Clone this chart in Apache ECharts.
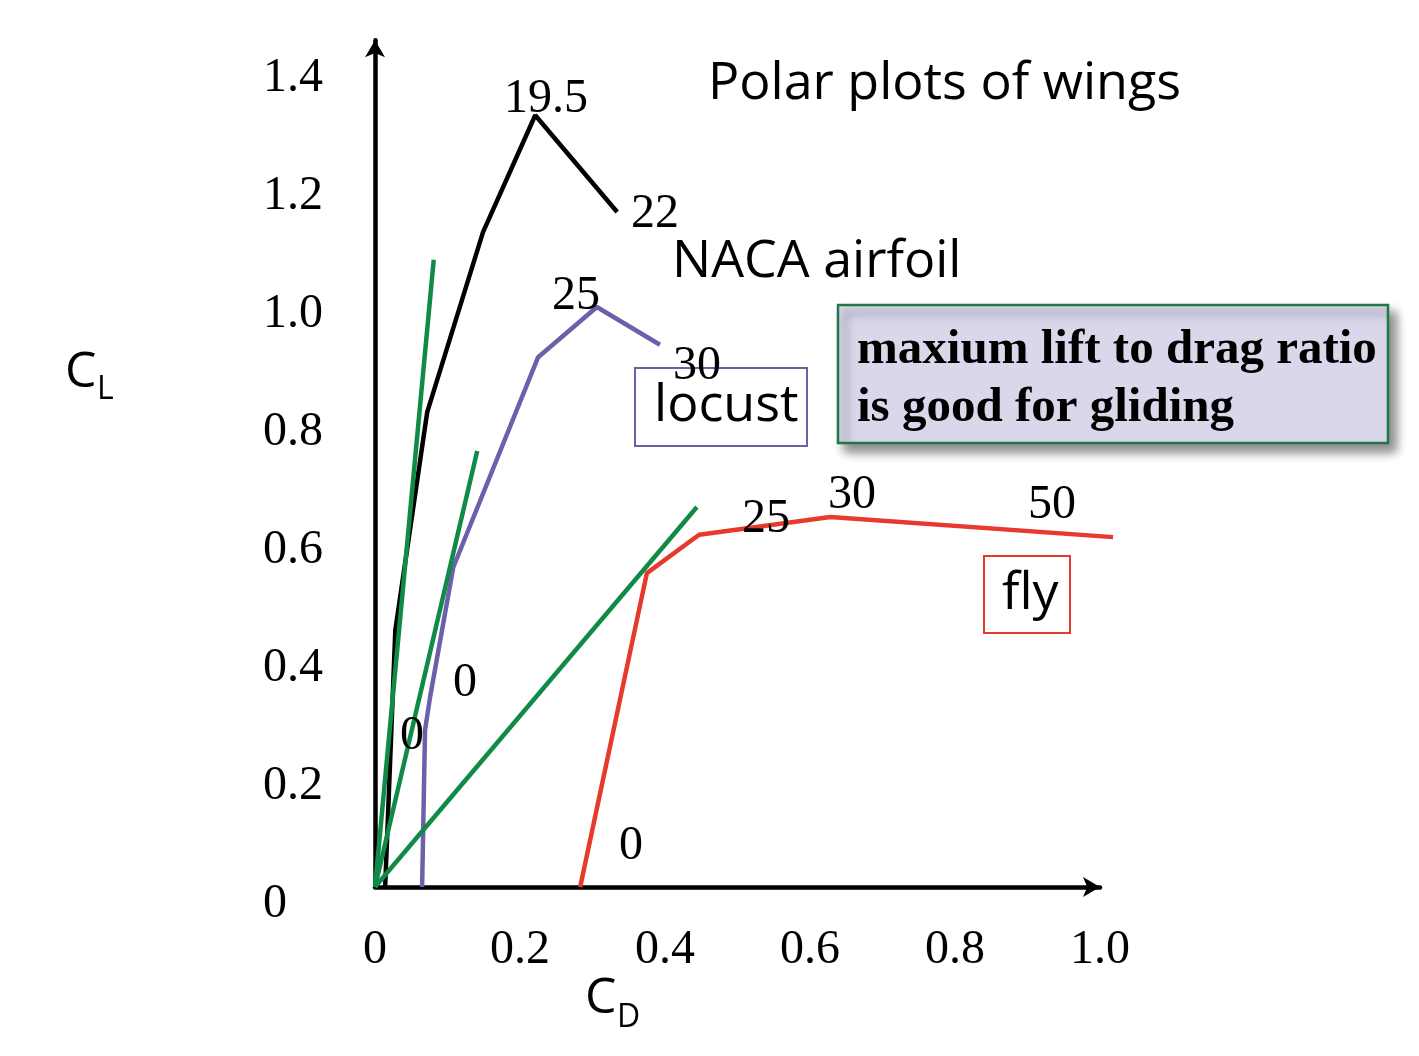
<!DOCTYPE html>
<html>
<head>
<meta charset="utf-8">
<title>Polar plots of wings</title>
<style type="text/css">
html, body{margin: 0; padding: 0; background: #fff}
#chart{width: 1419px; height: 1056px}
</style>
</head>
<body>
<div id="chart"></div>
<script src="https://cdn.jsdelivr.net/npm/echarts@6/dist/echarts.min.js"></script>
<script type="text/javascript">
// tick labels
var cdTicks = [0, 0.2, 0.4, 0.6, 0.8, 1.0];
var cdTickLabels = ['0', '0.2', '0.4', '0.6', '0.8', '1.0'];
var clTicks = [0, 0.2, 0.4, 0.6, 0.8, 1.0, 1.2, 1.4];
var clTickLabels = ['0', '0.2', '0.4', '0.6', '0.8', '1.0', '1.2', '1.4'];

// NACA airfoil
var nacaCD = [0.014, 0.028, 0.072, 0.149, 0.221, 0.334];
var nacaCL = [0.0, 0.435, 0.805, 1.110, 1.308, 1.144];

// locust
var locustCD = [0.065, 0.069, 0.076, 0.108, 0.225, 0.306, 0.393];
var locustCL = [0.0, 0.266, 0.322, 0.542, 0.898, 0.983, 0.919];

// fly
var flyCD = [0.283, 0.375, 0.447, 0.628, 1.018];
var flyCL = [0.0, 0.532, 0.597, 0.627, 0.593];

// tangent lines from origin (max lift/drag)
var tangentCD = [0.081, 0.141, 0.444];
var tangentCL = [1.063, 0.739, 0.644];

function pairs(xs, ys) {
    var out = [];
    for (var i = 0; i < xs.length; i++) out.push([xs[i], ys[i]]);
    return out;
}
function tickText(ticks, labels) {
    return function (v) {
        for (var i = 0; i < ticks.length; i++) {
            if (Math.abs(ticks[i] - v) < 1e-6) return labels[i];
        }
        return '';
    };
}

var serif = '"Liberation Serif", "Times New Roman", serif';
var sans = '"Open Sans", "Noto Sans", sans-serif';

function num(str, x, y) {
    return {
        type: 'text', x: x, y: y + 3, z: 10,
        style: {text: str, fill: '#000', font: '48px ' + serif, textAlign: 'center', textVerticalAlign: 'middle'}
    };
}
function word(str, x, y, size) {
    return {
        type: 'text', x: x, y: y, z: 10,
        style: {text: str, fill: '#000', font: (size || 52) + 'px ' + sans, textAlign: 'left', textVerticalAlign: 'middle'}
    };
}

var chart = echarts.init(document.getElementById('chart'));

var series = [
    {
        name: 'NACA airfoil', type: 'line', symbol: 'none',
        lineStyle: {color: '#000', width: 4.5},
        data: pairs(nacaCD, nacaCL)
    },
    {
        name: 'locust', type: 'line', symbol: 'none',
        lineStyle: {color: '#6a61aa', width: 4.5},
        data: pairs(locustCD, locustCL)
    }
];
for (var i = 0; i < tangentCD.length; i++) {
    series.push({
        name: 'tangent' + i, type: 'line', symbol: 'none',
        lineStyle: {color: '#0f8b47', width: 4.5},
        data: [[0, 0], [tangentCD[i], tangentCL[i]]]
    });
}
// the fly curve runs a little past C_D = 1.0, so it sits on a wider twin grid
series.push({
    name: 'fly', type: 'line', symbol: 'none',
    xAxisIndex: 1, yAxisIndex: 1,
    lineStyle: {color: '#e8392d', width: 4.5},
    data: pairs(flyCD, flyCL)
});

option = {
    animation: false,
    backgroundColor: '#fff',
    grid: [
        {left: 375, right: 319, top: 40.35, bottom: 169, containLabel: false},
        {left: 375, right: 304.5, top: 40.35, bottom: 169, containLabel: false}
    ],
    xAxis: [
        {
            type: 'value',
            min: 0,
            max: 1.0,
            interval: 0.2,
            axisLine: {
                show: true,
                symbol: ['none', 'arrow'],
                symbolSize: [15, 17],
                lineStyle: {color: '#000', width: 4.5}
            },
            axisTick: {show: false},
            splitLine: {show: false},
            axisLabel: {
                color: '#000',
                fontFamily: serif,
                fontSize: 48,
                margin: 39,
                formatter: tickText(cdTicks, cdTickLabels)
            }
        },
        {type: 'value', gridIndex: 1, min: 0, max: 1.02, show: false, splitLine: {show: false}}
    ],
    yAxis: [
        {
            type: 'value',
            min: 0,
            max: 1.435,
            interval: 0.2,
            axisLine: {
                show: true,
                symbol: ['none', 'arrow'],
                symbolSize: [15, 17],
                lineStyle: {color: '#000', width: 4.5}
            },
            axisTick: {show: false},
            splitLine: {show: false},
            axisLabel: {
                color: '#000',
                fontFamily: serif,
                fontSize: 48,
                align: 'left',
                verticalAlign: 'top',
                lineHeight: 34,
                margin: 112,
                formatter: tickText(clTicks, clTickLabels)
            }
        },
        {type: 'value', gridIndex: 1, min: 0, max: 1.435, show: false, splitLine: {show: false}}
    ],
    series: series,
    graphic: [
        word('Polar plots of wings', 708, 84),
        word('NACA airfoil', 672, 262),
        // locust box
        {
            type: 'rect', z: 9,
            shape: {x: 635, y: 368, width: 172, height: 78},
            style: {fill: 'none', stroke: '#6a61aa', lineWidth: 2}
        },
        word('locust', 654, 406),
        // fly box
        {
            type: 'rect', z: 9,
            shape: {x: 984, y: 556, width: 86, height: 77},
            style: {fill: 'none', stroke: '#e8392d', lineWidth: 2}
        },
        word('fly', 1002, 594),
        // note box
        {
            type: 'rect', z: 9,
            shape: {x: 838, y: 305, width: 550, height: 138},
            style: {
                fill: '#d9d7ea', stroke: '#1e7a45', lineWidth: 2.5,
                shadowBlur: 10, shadowOffsetX: 7, shadowOffsetY: 8, shadowColor: 'rgba(0,0,0,0.45)'
            }
        },
        {
            type: 'text', x: 857, y: 350, z: 10,
            style: {text: 'maxium lift to drag ratio', fill: '#000', font: 'bold 49px ' + serif, textAlign: 'left', textVerticalAlign: 'middle'}
        },
        {
            type: 'text', x: 857, y: 408, z: 10,
            style: {text: 'is good for gliding', fill: '#000', font: 'bold 49px ' + serif, textAlign: 'left', textVerticalAlign: 'middle'}
        },
        // axis names
        word('C', 65, 373, 50),
        word('L', 97, 390, 32),
        word('C', 585, 999, 50),
        word('D', 617, 1018, 32),
        // angle of attack labels
        num('19.5', 546, 96),
        num('22', 655, 211),
        num('25', 576, 293),
        num('30', 697, 363),
        num('25', 766, 516),
        num('30', 852, 492),
        num('50', 1052, 502),
        num('0', 465, 680),
        num('0', 412, 733),
        num('0', 631, 843)
    ]
};
if (option && typeof option === "object") {
    chart.setOption(option, true);
}
</script>
</body>
</html>
